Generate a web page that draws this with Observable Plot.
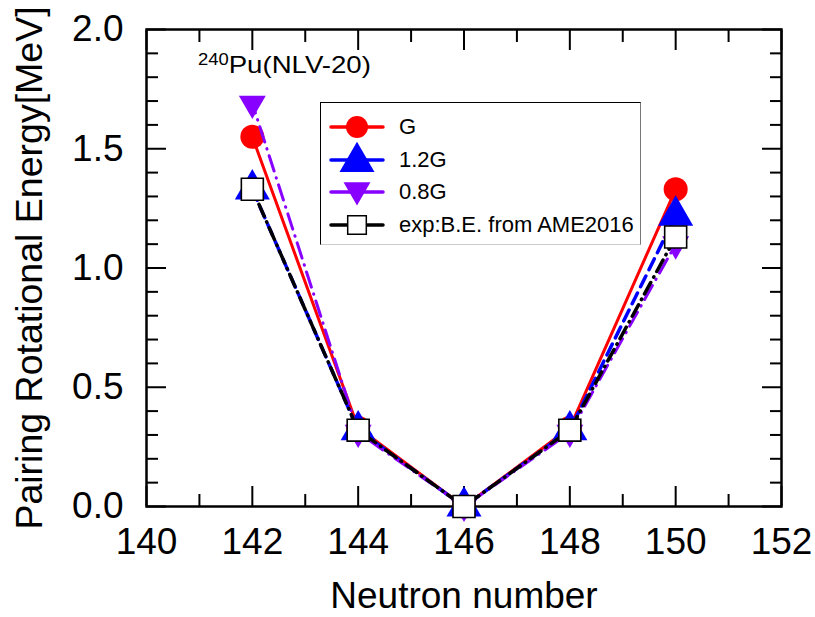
<!DOCTYPE html>
<html><head><meta charset="utf-8">
<script src="https://cdn.jsdelivr.net/npm/d3@7"></script>
<script src="https://cdn.jsdelivr.net/npm/@observablehq/plot@0.6"></script>
<style>
body{margin:0;background:#fff;font-family:"Liberation Sans",Arial,sans-serif;}
#wrap{position:relative;width:815px;height:617px;overflow:hidden;}
#legend{position:absolute;left:320px;top:102px;width:321px;height:143px;box-sizing:border-box;
 border-left:1.5px solid #000;border-top:1.5px solid #000;border-right:1.5px solid #777;border-bottom:1.5px solid #ccc;background:#fff;}
.row{position:absolute;left:8px;height:32px;display:flex;align-items:center;font-size:22px;color:#000;}
.row svg{margin-right:14px;}
#note{position:absolute;left:198px;top:51px;font-size:24px;color:#000;white-space:nowrap;transform:scaleX(1.15);transform-origin:0 0;}
#note sup{font-size:16px;vertical-align:0;position:relative;top:-8px;}
</style></head><body><div id="wrap"></div>
<script>
// ---- data ----
const neutrons = [142, 144, 146, 148, 150];
const valuesG   = [1.55, 0.33, 0.0, 0.33, 1.33];
const values12G = [1.33, 0.32, 0.0, 0.32, 1.22];
const values08G = [1.69, 0.31, 0.0, 0.31, 1.10];
const valuesExp = [1.33, 0.32, 0.0, 0.32, 1.13];
const seriesNames = ["G", "1.2G", "0.8G", "exp:B.E. from AME2016"];
const xMajorTicks = [140, 142, 144, 146, 148, 150, 152];
const xMinorTicks = [141, 143, 145, 147, 149, 151];
const yMajorTicks = [0.0, 0.5, 1.0, 1.5, 2.0];
const yMinorTicks = [0.1, 0.2, 0.3, 0.4, 0.6, 0.7, 0.8, 0.9, 1.1, 1.2, 1.3, 1.4, 1.6, 1.7, 1.8, 1.9];
const xLabel = "Neutron number";
const yLabel = "Pairing Rotational Energy[MeV]";

const rows = (vals) => neutrons.map((n, i) => ({n, v: vals[i]}));
const RED = "#ff0000", BLUE = "#0000ff", PURPLE = "#8800ff", BLACK = "#000000";

const axisCommon = {label: null, strokeWidth: 2, fontSize: 37};
const plot = Plot.plot({
  width: 815, height: 617,
  marginLeft: 146, marginRight: 34, marginTop: 29, marginBottom: 111,
  x: {domain: [140, 152]},
  y: {domain: [0, 2]},
  style: {fontFamily: "'Liberation Sans', Arial, sans-serif", color: "#000", background: "#fff", overflow: "visible"},
  marks: [
    Plot.axisX({...axisCommon, anchor: "bottom", ticks: xMajorTicks, tickSize: -20, tickPadding: 41, tickFormat: d => String(d)}),
    Plot.axisX({...axisCommon, anchor: "bottom", ticks: xMinorTicks, tickSize: -12, tickFormat: () => ""}),
    Plot.axisX({...axisCommon, anchor: "top", ticks: xMajorTicks, tickSize: -20, tickFormat: () => ""}),
    Plot.axisX({...axisCommon, anchor: "top", ticks: xMinorTicks, tickSize: -12, tickFormat: () => ""}),
    Plot.axisY({...axisCommon, anchor: "left", ticks: yMajorTicks, tickSize: -20, tickPadding: 43, tickFormat: d => d.toFixed(1)}),
    Plot.axisY({...axisCommon, anchor: "left", ticks: yMinorTicks, tickSize: -12, tickFormat: () => ""}),
    Plot.axisY({...axisCommon, anchor: "right", ticks: yMajorTicks, tickSize: -20, tickFormat: () => ""}),
    Plot.axisY({...axisCommon, anchor: "right", ticks: yMinorTicks, tickSize: -12, tickFormat: () => ""}),
    Plot.frame({stroke: "#000", strokeWidth: 2.5}),
    // G
    Plot.line(rows(valuesG), {x: "n", y: "v", stroke: RED, strokeWidth: 3}),
    Plot.dot(rows(valuesG), {x: "n", y: "v", r: 12, fill: RED, symbol: "circle"}),
    // 1.2G
    Plot.line(rows(values12G), {x: "n", y: "v", stroke: BLUE, strokeWidth: 3.5, strokeDasharray: "12,7", strokeLinecap: "round"}),
    Plot.dot(rows(values12G), {x: "n", y: "v", r: 13, fill: BLUE, symbol: "triangle"}),
    // 0.8G
    Plot.line(rows(values08G), {x: "n", y: "v", stroke: PURPLE, strokeWidth: 3, strokeDasharray: "16,7,0.5,7", strokeLinecap: "round", strokeDashoffset: 6}),
    Plot.dot(rows(values08G), {x: "n", y: "v", r: 10, fill: PURPLE, symbol: "triangle", rotate: 180}),
    // exp
    Plot.line(rows(valuesExp), {x: "n", y: "v", stroke: BLACK, strokeWidth: 3.5, strokeDasharray: "13,6,0.5,6", strokeLinecap: "round", strokeDashoffset: 9}),
    Plot.dot(rows(valuesExp), {x: "n", y: "v", r: 12.4, fill: "#fff", stroke: BLACK, strokeWidth: 1.6, symbol: "square"})
  ]
});

const svg = d3.select(plot);
svg.append("text").attr("x", 464).attr("y", 608).attr("text-anchor", "middle")
  .attr("font-size", 37).attr("fill", "#000").text(xLabel);
svg.append("text").attr("transform", "translate(42,268) rotate(-90)").attr("text-anchor", "middle")
  .attr("font-size", 37.5).attr("fill", "#000").text(yLabel);

const wrap = document.getElementById("wrap");
wrap.appendChild(plot);

// annotation
const note = document.createElement("div");
note.id = "note";
note.innerHTML = "<sup>240</sup>Pu(NLV-20)";
wrap.appendChild(note);

// legend
const legend = document.createElement("div");
legend.id = "legend";
wrap.appendChild(legend);
const legendStyles = [
  {name: seriesNames[0], color: RED, symbol: d3.symbolCircle, r: 11, fill: RED, stroke: null, rot: 0},
  {name: seriesNames[1], color: BLUE, symbol: d3.symbolTriangle, r: 13, fill: BLUE, stroke: null, rot: 0},
  {name: seriesNames[2], color: PURPLE, symbol: d3.symbolTriangle, r: 10, fill: PURPLE, stroke: null, rot: 180},
  {name: seriesNames[3], color: BLACK, symbol: d3.symbolSquare, r: 10.5, fill: "#fff", stroke: BLACK, rot: 0}
];
legendStyles.forEach((s, i) => {
  const row = document.createElement("div");
  row.className = "row";
  row.style.top = (8 + i * 32.5) + "px";
  const w = 56, h = 32;
  const sv = d3.create("svg").attr("width", w).attr("height", h).style("overflow", "visible");
  sv.append("line").attr("x1", 2).attr("x2", w - 2).attr("y1", h / 2).attr("y2", h / 2)
    .attr("stroke", s.color).attr("stroke-width", 3.5).attr("stroke-linecap", "round");
  sv.append("path").attr("d", d3.symbol(s.symbol, Math.PI * s.r * s.r)())
    .attr("transform", `translate(${w / 2},${h / 2 + (s.symbol === d3.symbolTriangle ? (s.rot ? -2 : 2) : 0)}) rotate(${s.rot})`)
    .attr("fill", s.fill).attr("stroke", s.stroke || "none").attr("stroke-width", 1.5);
  row.appendChild(sv.node());
  const t = document.createElement("span");
  t.textContent = s.name;
  row.appendChild(t);
  legend.appendChild(row);
});
</script>
</body></html>
